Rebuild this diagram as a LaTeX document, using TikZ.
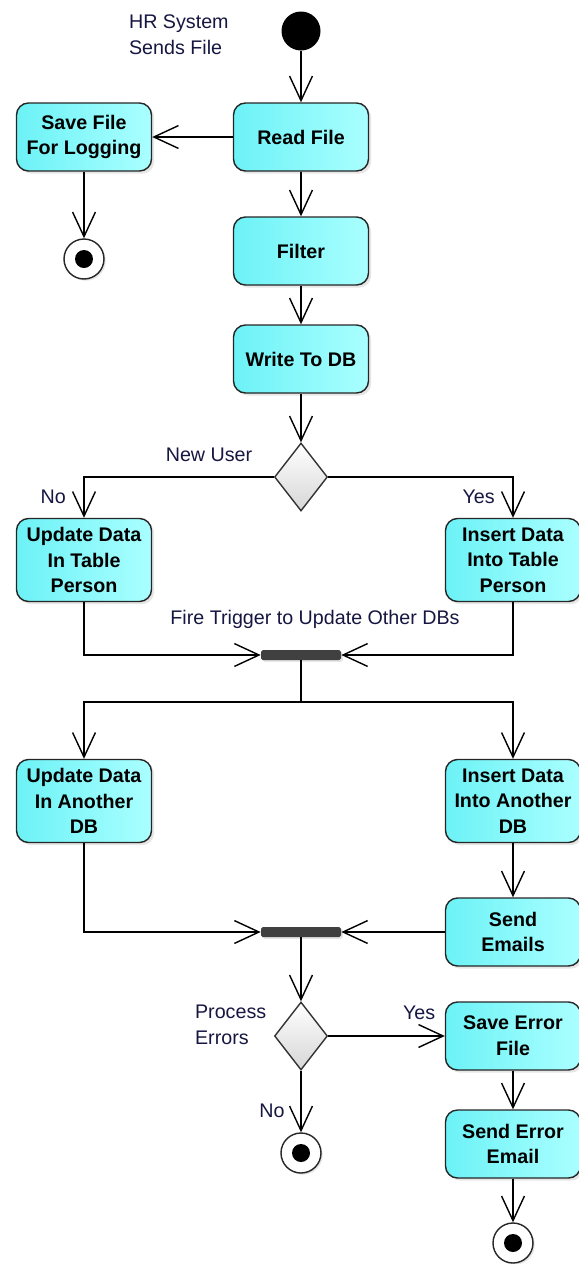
\documentclass[tikz,border=0pt]{standalone}
\usepackage{fontspec}
\setmainfont{Liberation Sans}
\usetikzlibrary{arrows.meta,shapes.geometric,shadows}
\definecolor{actfill}{RGB}{108,242,246}
\definecolor{actlight}{RGB}{170,255,255}
\definecolor{lbltext}{RGB}{22,22,66}
\definecolor{barfill}{RGB}{64,64,64}
\begin{document}
\begin{tikzpicture}
[font=\fontsize{11.2}{14.6}\selectfont,
  actdecorate/.style={shape=rectangle,rounded corners=0.24cm,draw=black!85,line width=0.8pt,%
    left color=actfill,right color=actlight,align=center,font=\fontsize{11.2}{14.6}\selectfont\bfseries,%
    minimum width=2.7cm,minimum height=1.36cm,inner sep=2pt,%
    drop shadow={opacity=0.2,shadow xshift=1.5pt,shadow yshift=-1.5pt}},%
  tallact/.style={actdecorate,minimum height=1.66cm},%
  decisiondecorate/.style={shape=diamond,draw=black!80,line width=0.8pt,top color=white,%
    bottom color=black!16,minimum width=1.06cm,minimum height=1.36cm,inner sep=0pt},%
  bardecorate/.style={shape=rectangle,rounded corners=1pt,fill=barfill,minimum width=1.6cm,%
    minimum height=0.2cm,inner sep=0pt,drop shadow={opacity=0.2,shadow xshift=1pt,shadow yshift=-1pt}},%
  initdecorate/.style={shape=circle,fill=black,minimum size=0.78cm,inner sep=0pt},%
  finaldecorate/.style={shape=circle,draw=black!85,line width=0.8pt,fill=white,minimum size=0.8cm,%
    inner sep=0pt,path picture={\fill[black] (path picture bounding box.center) circle (0.18cm);},%
    drop shadow={opacity=0.2,shadow xshift=1pt,shadow yshift=-1pt}},%
  lbl/.style={text=lbltext,inner sep=1pt},%
  arrowdecorate/.style={-{Straight Barb[length=14pt,width=13pt]},line width=0.8pt}]
\useasboundingbox (0,0) rectangle (11.58,-25.28);
% start and first actions
\node (start) at (6.02,-0.62) [initdecorate] {};
\node (hrlabel) at (2.54,-0.69) [lbl,align=left,anchor=west] {HR System\\Sends File};
\node (read) at (6.02,-2.74) [actdecorate] {Read File};
\node (savefile) at (1.68,-2.74) [actdecorate] {Save File\\For Logging};
\node (end1) at (1.68,-5.18) [finaldecorate] {};
\node (filter) at (6.02,-5.02) [actdecorate] {Filter};
\node (writedb) at (6.02,-7.18) [actdecorate] {Write To DB};
% new user decision
\node (newuser) at (6.02,-9.54) [decisiondecorate] {};
\node (userlabel) at (4.18,-9.1) [lbl] {New User};
\node (updperson) at (1.68,-11.2) [tallact] {Update Data\\In Table\\Person};
\node (insperson) at (10.26,-11.2) [tallact] {Insert Data\\Into Table\\Person};
% join and fork
\node (bar1) at (6.02,-13.1) [bardecorate] {};
\node (triggerlabel) at (6.3,-12.38) [lbl] {Fire Trigger to Update Other DBs};
\coordinate (fork) at (6.02,-14.04);
\node (upddb) at (1.68,-16.02) [tallact] {Update Data\\In Another\\DB};
\node (insdb) at (10.26,-16.02) [tallact] {Insert Data\\Into Another\\DB};
\node (emails) at (10.26,-18.64) [actdecorate] {Send\\Emails};
\node (bar2) at (6.02,-18.64) [bardecorate] {};
% error handling
\node (errors) at (6.02,-20.72) [decisiondecorate] {};
\node (errlabel) at (3.86,-20.49) [lbl,align=left,anchor=west] {Process\\Errors};
\node (saveerr) at (10.26,-20.72) [actdecorate] {Save Error\\File};
\node (senderr) at (10.26,-22.88) [actdecorate] {Send Error\\Email};
\node (end2) at (6.02,-23.06) [finaldecorate] {};
\node (end3) at (10.26,-24.86) [finaldecorate] {};
% straight flows
\path
(start) edge[arrowdecorate] (read)
(read) edge[arrowdecorate] (savefile)
(savefile) edge[arrowdecorate] (end1)
(read) edge[arrowdecorate] (filter)
(filter) edge[arrowdecorate] (writedb)
(writedb) edge[arrowdecorate] (newuser)
(insdb) edge[arrowdecorate] (emails)
(emails) edge[arrowdecorate] (bar2)
(bar2) edge[arrowdecorate] (errors)
(errors) edge[arrowdecorate] node[lbl,above=8pt,pos=0.78] (yeserr) {Yes} (saveerr)
(errors) edge[arrowdecorate] node[lbl,left=8pt,pos=0.65] (noerr) {No} (end2)
(saveerr) edge[arrowdecorate] (senderr)
(senderr) edge[arrowdecorate] (end3);
% elbow flows
\draw[arrowdecorate] (newuser.west) -| node[lbl,left=9pt,pos=0.74] (nouser) {No} (updperson.north);
\draw[arrowdecorate] (newuser.east) -| node[lbl,left=9pt,pos=0.74] (yesuser) {Yes} (insperson.north);
\draw[arrowdecorate] (updperson.south) |- (bar1.west);
\draw[arrowdecorate] (insperson.south) |- (bar1.east);
\draw[line width=1.7pt] (bar1.south) -- (fork);
\draw[arrowdecorate] (fork) -| (upddb.north);
\draw[arrowdecorate] (fork) -| (insdb.north);
\draw[arrowdecorate] (upddb.south) |- (bar2.west);
\end{tikzpicture}
\end{document}
